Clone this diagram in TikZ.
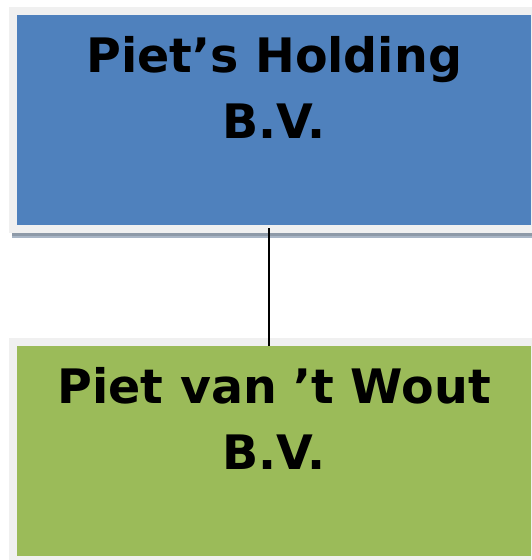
\documentclass[tikz,border=0pt]{standalone}
\usepackage{fontspec}
\setsansfont{DejaVu Sans}
\usetikzlibrary{positioning}
\definecolor{boxblue}{HTML}{4F81BD}
\definecolor{boxgreen}{HTML}{9BBB59}
\definecolor{panelgray}{HTML}{F0F0F0}
\definecolor{shadowdark}{HTML}{8E9AA8}
\definecolor{shadowlight}{HTML}{A9B6C6}

\begin{document}
\begin{tikzpicture}[x=1pt,y=-1pt,
    entity/.style={draw=none, inner sep=0, minimum width=514pt, minimum height=210pt, anchor=north west},
    entitytext/.style={font=\sffamily\bfseries\fontsize{47.5}{66.5}\selectfont, align=center, inner sep=0, anchor=north}]
  \useasboundingbox (0,0) rectangle (532,560);

  % grey panels behind the boxes
  \fill[panelgray] (9,7) rectangle (532,233);
  \fill[panelgray] (9,338) rectangle (532,560);

  % shadow under the top panel
  \fill[shadowdark] (12,233) rectangle (532,235.5);
  \fill[shadowlight] (12,235.5) rectangle (532,238);

  % boxes
  \node[entity, fill=boxblue] (holding) at (17,15) {};
  \node[entity, fill=boxgreen] (wout) at (17,346) {};

  % labels
  \node[entitytext] (holdinglabel) at ([yshift=-21pt]holding.north) {Piet’s Holding\\B.V.};
  \node[entitytext] (woutlabel) at ([yshift=-21pt]wout.north) {Piet van ’t Wout\\B.V.};

  % link
  \draw[line width=1.6pt] ([xshift=-5pt,yshift=-3pt]holding.south) -- ([xshift=-5pt]wout.north);
\end{tikzpicture}
\end{document}
